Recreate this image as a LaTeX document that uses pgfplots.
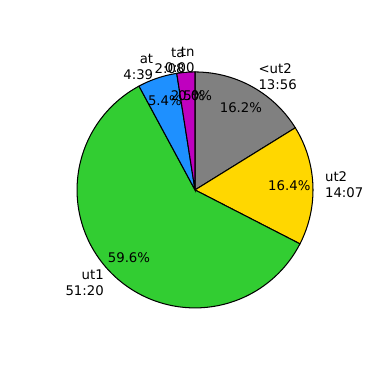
\documentclass[border=0pt]{standalone}
\usepackage{fontspec}
\setmainfont{DejaVu Sans}
\usepackage{pgfplots}
\pgfplotsset{compat=1.18}
\definecolor{cgray}{HTML}{808080}
\definecolor{cgold}{HTML}{FFD700}
\definecolor{cgreen}{HTML}{32CD32}
\definecolor{cblue}{HTML}{1E90FF}
\definecolor{cmag}{HTML}{BF00BF}
\def\total{5170}
% #1 cumulative seconds before, #2 seconds, #3 colour, #4 label, #5 percent text
\newcommand\slice[5]{%
  \pgfmathsetmacro\sa{90-360*(#1/\total)}%
  \pgfmathsetmacro\sb{90-360*((#1+#2)/\total)}%
  \pgfmathsetmacro\sm{(\sa+\sb)/2}%
  \pgfmathsetmacro\lx{1.1*cos(\sm)}%
  \pgfmathsetmacro\ly{1.1*sin(\sm)}%
  \pgfmathsetmacro\px{0.8*cos(\sm)}%
  \pgfmathsetmacro\py{0.8*sin(\sm)}%
  \ifdim\lx pt>0.001pt \def\anc{west}\def\al{left}\else\def\anc{east}\def\al{right}\fi
  \ifdim#2pt>0pt
  \edef\tmp{\noexpand\addplot[fill=#3,draw=black,line width=0.5pt,domain=\sb:\sa,samples=80,smooth]
    ({cos(x)},{sin(x)}) -- (axis cs:0,0) -- cycle;}%
  \tmp
  \fi
  \edef\tmp{\noexpand\node[anchor=\anc,align=\al,inner sep=0pt] at (axis cs:\lx,\ly) {\unexpanded{#4}};
    \noexpand\node[anchor=center,inner sep=0pt] at (axis cs:\px,\py) {\unexpanded{#5}};}%
  \tmp
}
\begin{document}
\begin{tikzpicture}
\begin{axis}[
  scale only axis,
  width=6.442cm, height=6.44cm,
  xmin=-1.653, xmax=1.568, ymin=-1.61, ymax=1.61,
  hide axis, clip=false,
  font=\fontsize{6.4}{7.7}\selectfont,
]
\path (rel axis cs:0,0) -- (rel axis cs:1,1);
\slice{0}{836}{cgray}{<ut2\\13:56}{16.2\%}
\slice{836}{847}{cgold}{ut2\\14:07}{16.4\%}
\slice{1683}{3080}{cgreen}{ut1\\51:20}{59.6\%}
\slice{4763}{279}{cblue}{at\\4:39}{5.4\%}
\slice{5042}{128}{cmag}{ta\\2:08}{2.5\%}
\slice{5170}{0}{cmag}{tn\\0:00}{0.0\%}
\end{axis}
\end{tikzpicture}
\end{document}
